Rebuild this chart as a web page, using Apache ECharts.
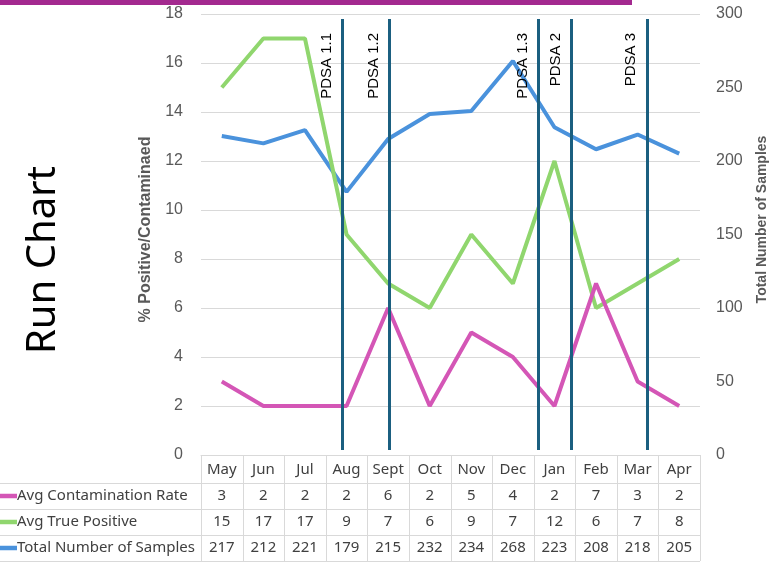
<!DOCTYPE html>
<html><head><meta charset="utf-8">
<script src="https://cdn.jsdelivr.net/npm/echarts@6/dist/echarts.min.js"></script>
<style>html,body{margin:0;padding:0;background:#fff}#c{width:771px;height:562px}</style>
</head><body><div id="c"></div>
<script>
const categories = ['May','Jun','Jul','Aug','Sept','Oct','Nov','Dec','Jan','Feb','Mar','Apr'];
const seriesNames = ['Avg Contamination Rate','Avg True Positive','Total Number of Samples'];
const contamination = [3,2,2,2,6,2,5,4,2,7,3,2];
const truePositive = [15,17,17,9,7,6,9,7,12,6,7,8];
const totalSamples = [217,212,221,179,215,232,234,268,223,208,218,205];
const pdsaLabels = ['PDSA 1.1','PDSA 1.2','PDSA 1.3','PDSA 2','PDSA 3'];
const pdsaPositions = [2.9, 4.02, 7.62, 8.4, 10.22];
const leftAxis = {min:0, max:18, interval:2};
const rightAxis = {min:0, max:300, interval:50};
const colors = ['#D456B6','#90D66E','#4A92DC'];

const chart = echarts.init(document.getElementById('c'), null, {renderer:'canvas'});
const axisFont = {fontFamily:'Liberation Sans, Arial, sans-serif', fontSize:16, color:'#595959'};
const option = {
  animation:false,
  grid:{left:201, right:71, top:14, bottom:107, containLabel:false, outerBoundsMode:'none'},
  xAxis:[
    {type:'category', data:categories, boundaryGap:true, axisLine:{show:true,lineStyle:{color:'#d9d9d9'}}, axisTick:{show:false}, axisLabel:{show:false}, splitLine:{show:false}},
    {type:'value', min:-0.5, max:categories.length-0.5, show:false}
  ],
  yAxis:[
    {type:'value', min:leftAxis.min, max:leftAxis.max, interval:leftAxis.interval,
     name:'% Positive/Contaminaed', nameLocation:'middle', nameGap:47,
     nameTextStyle:{fontFamily:'Liberation Sans, Arial, sans-serif', fontSize:16, fontWeight:'bold', color:'#595959', padding:[0,0,0,10]},
     axisLine:{show:false}, axisTick:{show:false}, axisLabel:Object.assign({margin:18}, axisFont),
     splitLine:{lineStyle:{color:'#d9d9d9', width:1}}},
    {type:'value', min:rightAxis.min, max:rightAxis.max, interval:rightAxis.interval,
     name:'Total Number of Samples', nameLocation:'middle', nameGap:55,
     nameTextStyle:{fontFamily:'Liberation Sans, Arial, sans-serif', fontSize:14, fontWeight:'bold', color:'#595959', padding:[0,0,0,30]},
     axisLine:{show:false}, axisTick:{show:false}, axisLabel:Object.assign({margin:16}, axisFont),
     splitLine:{show:false}}
  ],
  series:[
    {type:'line', xAxisIndex:1, yAxisIndex:0, data:[], z:1,
     markLine:{silent:true, symbol:'none',
       lineStyle:{type:'solid', color:'#1B5F80', width:3},
       label:{show:true, position:'insideEndTop', formatter:'{b}', distance:[14,8],
         fontFamily:'Liberation Sans, Arial, sans-serif', fontSize:15, color:'#000'},
       data: pdsaPositions.map((p,i)=>[{name:pdsaLabels[i], coord:[p,0.2]},{coord:[p,17.8]}])
     }},
    {name:seriesNames[2], type:'line', yAxisIndex:1, data:totalSamples, symbol:'none', lineStyle:{color:colors[2], width:4}, itemStyle:{color:colors[2]}, z:3},
    {name:seriesNames[1], type:'line', yAxisIndex:0, data:truePositive, symbol:'none', lineStyle:{color:colors[1], width:4}, itemStyle:{color:colors[1]}, z:3},
    {name:seriesNames[0], type:'line', yAxisIndex:0, data:contamination, symbol:'none', lineStyle:{color:colors[0], width:4}, itemStyle:{color:colors[0]}, z:3}
  ]
};
chart.setOption(option);

// data table under the chart
const rowCenters = [470, 496, 522, 548];
const rowLines = [483, 509, 535, 561];
const tableTop = 455;
const tableFont = 'Noto Sans, sans-serif';
const cellColor = '#404040';
const lineColor = '#d9d9d9';
const rows = [contamination, truePositive, totalSamples];
const rowColors = [colors[0], colors[1], colors[2]];
const g = [];
const xb = (v) => chart.convertToPixel({xAxisIndex:1}, v);
const leftX = xb(-0.5), rightX = xb(categories.length-0.5);
for (let i=0;i<=categories.length;i++){
  const x = Math.round(xb(i-0.5))+0.5;
  g.push({type:'line', shape:{x1:x,y1:tableTop,x2:x,y2:rowLines[3]}, style:{stroke:lineColor, lineWidth:1}, silent:true});
}
g.push({type:'line', shape:{x1:leftX,y1:tableTop+0.5,x2:rightX,y2:tableTop+0.5}, style:{stroke:lineColor, lineWidth:1}, silent:true});
rowLines.forEach(y=>{
  g.push({type:'line', shape:{x1:0,y1:y+0.5,x2:rightX,y2:y+0.5}, style:{stroke:lineColor, lineWidth:1}, silent:true});
});
categories.forEach((c,i)=>{
  g.push({type:'text', x:xb(i), y:rowCenters[0], style:{text:c, font:'15px '+tableFont, fill:cellColor, align:'center', verticalAlign:'middle'}, silent:true});
});
rows.forEach((arr,r)=>{
  const y = rowCenters[r+1];
  arr.forEach((v,i)=>{
    g.push({type:'text', x:xb(i), y:y, style:{text:String(v), font:'15px '+tableFont, fill:cellColor, align:'center', verticalAlign:'middle'}, silent:true});
  });
  g.push({type:'line', shape:{x1:0,y1:y,x2:17,y2:y}, style:{stroke:rowColors[r], lineWidth:4.5}, silent:true});
  g.push({type:'text', x:17, y:y, style:{text:seriesNames[r], font:'15px '+tableFont, fill:cellColor, align:'left', verticalAlign:'middle'}, silent:true});
});
g.push({type:'rect', shape:{x:0,y:0,width:632,height:5}, style:{fill:'#A3298F'}, silent:true});
g.push({type:'text', x:44, y:260, rotation:Math.PI/2, style:{text:'Run Chart', font:'40px '+tableFont, fill:'#000', align:'center', verticalAlign:'middle'}, silent:true});
chart.setOption({graphic:{elements:g}});
</script>
</body></html>
